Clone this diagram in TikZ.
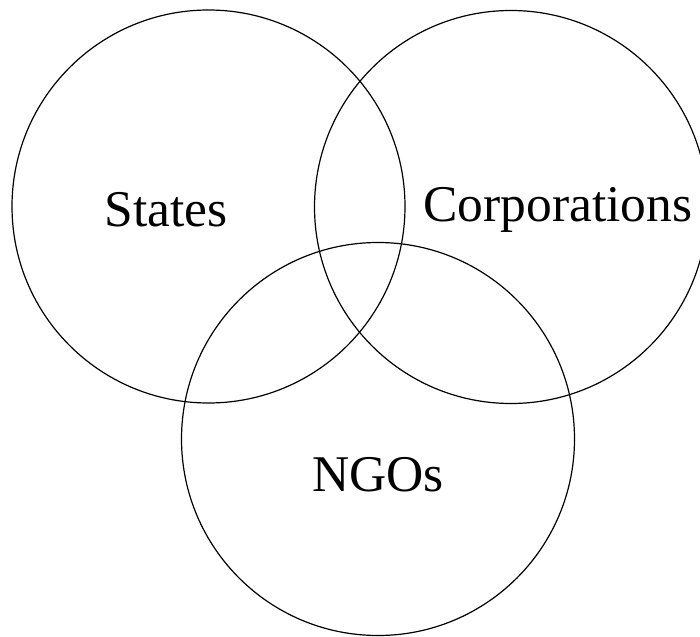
\documentclass[tikz,border=0pt]{standalone}
\usepackage{fontspec}
\setmainfont{Liberation Serif}

\begin{document}
\begin{tikzpicture}[x=1pt, y=-1pt,
    set/.style={circle, draw, line width=1.2pt, minimum size=393pt, inner sep=0pt},
    setlabel/.style={anchor=base, inner sep=0pt, font=\fontsize{51.5}{60}\selectfont}]

    % Fix the page size and cut off what runs past it
    \useasboundingbox (0,0) rectangle (700,636);
    \clip (0,0) rectangle (700,636);

    % Define the three sets
    \node[set] (states) at (208.5,206.5) {};
    \node[set] (corps) at (511,207) {};
    \node[set] (ngos) at (378,439) {};
    % Labels inside each set
    \node[setlabel] (statesl) at (166,226) {States};
    \node[setlabel] (corpsl) at (558,222) {Corporations};
    \node[setlabel] (ngosl) at (378,491) {NGOs};
\end{tikzpicture}
\end{document}
